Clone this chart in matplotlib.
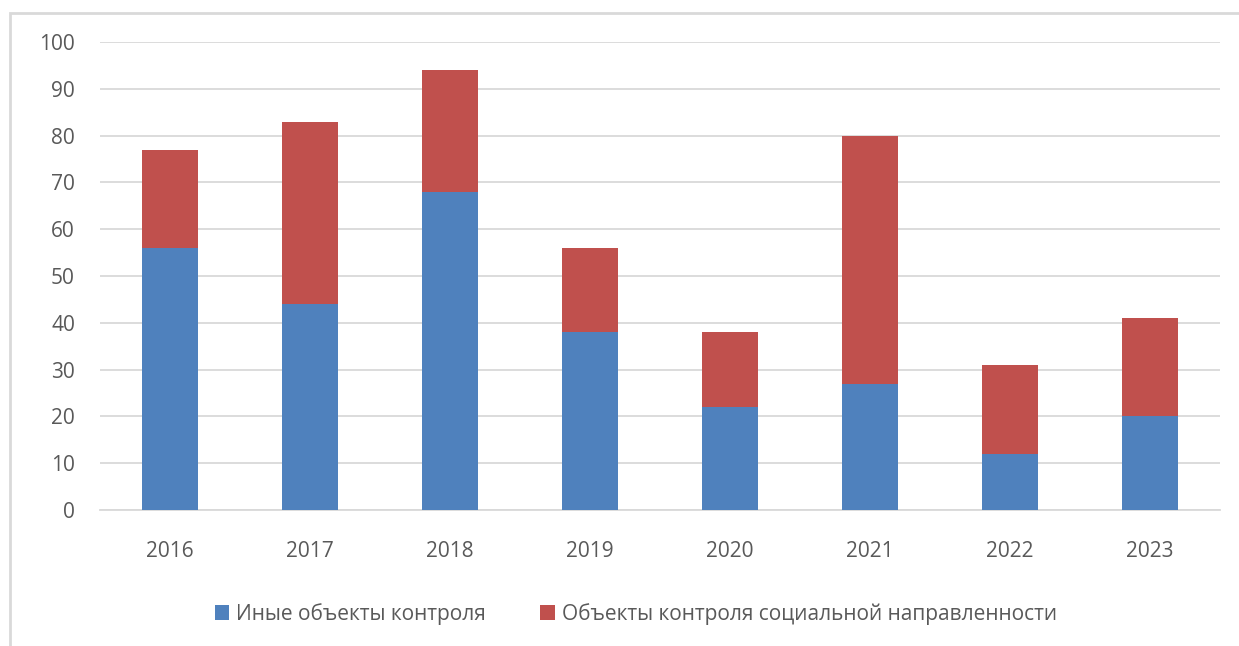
import numpy as np
import matplotlib.pyplot as plt
from matplotlib.patches import Rectangle

years = ["2016", "2017", "2018", "2019", "2020", "2021", "2022", "2023"]
other_objects = [56, 44, 68, 38, 22, 27, 12, 20]
social_objects = [21, 39, 26, 18, 16, 53, 19, 21]

label_other = "Иные объекты контроля"
label_social = "Объекты контроля социальной направленности"

plt.rcParams['font.family'] = ['Open Sans', 'DejaVu Sans']
text_color = '#595959'

fig = plt.figure(figsize=(12.39, 6.46), dpi=100)
ax = fig.add_axes([100 / 1239, 1 - 510 / 646, 1120 / 1239, 468 / 646])

x = np.arange(len(years))
ax.bar(x, other_objects, width=0.4, color='#4F81BD', label=label_other, zorder=3)
ax.bar(x, social_objects, width=0.4, bottom=other_objects, color='#C0504D',
       label=label_social, zorder=3)

ax.set_xlim(-0.5, len(years) - 0.5)
ax.set_ylim(0, 100)
ax.set_yticks(range(0, 101, 10))
ax.set_xticks(x)
ax.set_xticklabels(years)
ax.yaxis.grid(True, color='#D9D9D9', linewidth=1.3, zorder=0)
ax.tick_params(axis='both', length=0, labelsize=15, colors=text_color)
ax.tick_params(axis='x', pad=22)
ax.tick_params(axis='y', pad=18)
for side in ['top', 'right', 'left']:
    ax.spines[side].set_visible(False)
ax.spines['bottom'].set_color('#D9D9D9')
ax.spines['bottom'].set_linewidth(1.3)

# рамка области диаграммы
fig.patches.append(Rectangle((10 / 1239, -0.1), 1.2, 1 - 13 / 646 + 0.1,
                             transform=fig.transFigure, fill=False,
                             edgecolor='#D9D9D9', linewidth=2))

fig.legend(loc='center', bbox_to_anchor=(636 / 1239, 1 - 614 / 646), ncol=2,
           frameon=False, fontsize=15, labelcolor=text_color,
           handlelength=0.7, handleheight=0.7, handletextpad=0.35,
           columnspacing=2.6)

fig.savefig('out.png', dpi=100)
